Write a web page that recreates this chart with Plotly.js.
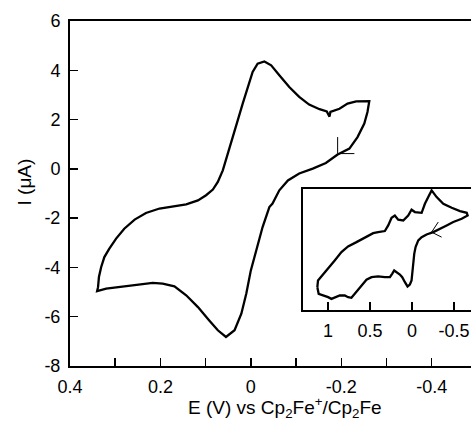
<!DOCTYPE html>
<html>
<head>
<meta charset="utf-8">
<script src="https://cdn.plot.ly/plotly-3.0.1.min.js"></script>
<style>html,body{margin:0;padding:0;background:#fff;}#chart{width:471px;height:422px;}</style>
</head>
<body>
<div id="chart"></div>
<script>
// Main cyclic voltammogram (E in V vs Cp2Fe+/Cp2Fe, I in µA)
const cvE = [-0.192,-0.218,-0.236,-0.251,-0.258,-0.262,-0.233,-0.214,-0.196,-0.176,-0.174,-0.168,-0.152,-0.129,-0.107,-0.085,-0.063,-0.045,-0.030,-0.015,-0.004,0.007,0.018,0.029,0.040,0.051,0.062,0.073,0.084,0.099,0.117,0.143,0.173,0.202,0.232,0.257,0.280,0.298,0.313,0.324,0.331,0.336,0.338,0.340,0.320,0.291,0.254,0.217,0.195,0.169,0.143,0.117,0.092,0.073,0.055,0.036,0.021,0.010,0.000,-0.012,-0.026,-0.041,-0.048,-0.063,-0.082,-0.107,-0.137,-0.166,-0.192];
const cvI = [0.58,0.82,1.29,1.84,2.31,2.75,2.74,2.65,2.44,2.31,2.12,2.33,2.42,2.61,2.92,3.32,3.80,4.20,4.36,4.27,3.93,3.32,2.65,1.97,1.29,0.62,-0.06,-0.53,-0.84,-1.07,-1.28,-1.44,-1.52,-1.61,-1.79,-2.06,-2.43,-2.83,-3.24,-3.58,-3.98,-4.39,-4.80,-4.96,-4.86,-4.80,-4.73,-4.63,-4.66,-4.77,-5.13,-5.61,-6.15,-6.55,-6.82,-6.55,-5.88,-5.06,-4.12,-3.31,-2.36,-1.55,-1.41,-0.87,-0.47,-0.19,0.01,0.24,0.58];
// Start-of-scan marker on main curve
const startMarkE = [-0.192,-0.192,-0.229];
const startMarkI = [1.29,0.62,0.62];

// Inset voltammogram (wide window), current in arbitrary units
const insetE = [1.127,1.119,1.087,1.039,0.979,0.920,0.840,0.761,0.661,0.562,0.462,0.403,0.323,0.283,0.243,0.204,0.164,0.104,0.045,0.005,-0.035,-0.115,-0.154,-0.194,-0.234,-0.294,-0.373,-0.473,-0.572,-0.652,-0.663,-0.592,-0.492,-0.413,-0.333,-0.254,-0.174,-0.115,-0.075,-0.043,-0.027,-0.015,-0.003,0.005,0.025,0.053,0.084,0.116,0.144,0.184,0.212,0.236,0.263,0.323,0.403,0.482,0.542,0.582,0.633,0.681,0.721,0.761,0.800,0.860,0.920,0.959,0.999,1.059,1.111,1.127];
const insetI = [1.91,2.46,2.73,3.15,3.61,4.11,4.79,5.26,5.61,5.97,6.35,6.43,6.52,6.98,7.61,7.80,7.45,7.39,7.80,8.27,8.08,8.02,8.76,9.31,9.86,9.31,8.76,8.43,8.16,8.02,7.80,7.53,7.26,6.98,6.71,6.43,6.24,6.02,5.75,5.20,4.65,3.83,3.01,2.46,2.13,1.97,2.32,2.73,2.95,3.15,3.28,3.01,2.73,2.73,2.79,2.73,2.52,2.19,1.78,1.37,1.04,1.09,1.23,1.23,1.04,0.95,1.09,1.23,1.37,1.91];
const insetMarkE = [-0.313,-0.234,-0.353];
const insetMarkI = [7.26,6.43,6.02];

// Tick labels
const xTickVals = [0.4,0.2,0,-0.2,-0.4];
const xTickText = ["0.4","0.2","0","-0.2","-0.4"];
const xMinorTickVals = [0.3,0.1,-0.1,-0.3];
const yTickVals = [6,4,2,0,-2,-4,-6,-8];
const yTickText = ["6","4","2","0","-2","-4","-6","-8"];
const insetTickVals = [1,0.5,0,-0.5];
const insetTickText = ["1","0.5","0","-0.5"];
const xTitle = 'E (V) vs Cp<sub>2</sub>Fe<sup>+</sup>/Cp<sub>2</sub>Fe';
const yTitle = 'I (μA)';

const font = {family: 'Liberation Sans, Arial, sans-serif', size: 18, color: '#000'};
const titleFont = {family: 'Liberation Sans, Arial, sans-serif', size: 19, color: '#000'};

const traces = [
  {x: cvE, y: cvI, mode: 'lines', line: {color: '#000', width: 2.3}, xaxis: 'x', yaxis: 'y', hoverinfo: 'skip'},
  {x: startMarkE, y: startMarkI, mode: 'lines', line: {color: '#000', width: 1}, xaxis: 'x', yaxis: 'y', hoverinfo: 'skip'},
  {x: insetE, y: insetI, mode: 'lines', line: {color: '#000', width: 2.3}, xaxis: 'x2', yaxis: 'y2', hoverinfo: 'skip'},
  {x: insetMarkE, y: insetMarkI, mode: 'lines', line: {color: '#000', width: 1}, xaxis: 'x2', yaxis: 'y2', hoverinfo: 'skip'}
];

const layout = {
  width: 471, height: 422,
  margin: {l: 70, r: 0, t: 21, b: 56},
  paper_bgcolor: '#fff', plot_bgcolor: 'rgba(0,0,0,0)',
  showlegend: false,
  font: font,
  xaxis: {
    range: [0.4, -0.487], domain: [0, 1], anchor: 'y',
    tickmode: 'array', tickvals: xTickVals, ticktext: xTickText,
    ticks: 'inside', ticklen: 8, tickwidth: 1.5, tickcolor: '#000',
    minor: {tickmode: 'array', tickvals: xMinorTickVals, ticks: 'inside', ticklen: 8, tickwidth: 1.5, tickcolor: '#000', showgrid: false},
    showline: true, linewidth: 2, linecolor: '#000', mirror: true,
    showgrid: false, zeroline: false, ticklabelstandoff: 3,
    tickfont: font
  },
  yaxis: {
    range: [-8, 6], domain: [0, 1], anchor: 'x',
    tickmode: 'array', tickvals: yTickVals, ticktext: yTickText,
    ticks: 'inside', ticklen: 8, tickwidth: 1.5, tickcolor: '#000',
    showline: true, linewidth: 2, linecolor: '#000', mirror: false,
    showgrid: false, zeroline: false, ticklabelstandoff: 4,
    tickfont: font
  },
  xaxis2: {
    range: [1.298, -0.703], domain: [0.581, 1], anchor: 'y2',
    tickmode: 'array', tickvals: insetTickVals, ticktext: insetTickText,
    ticks: 'inside', ticklen: 8, tickwidth: 1.5, tickcolor: '#000',
    showline: true, linewidth: 2, linecolor: '#000', mirror: true,
    showgrid: false, zeroline: false, ticklabelstandoff: 3,
    tickfont: font
  },
  yaxis2: {
    range: [0, 10], domain: [0.161, 0.514], anchor: 'x2',
    showticklabels: false, ticks: '',
    showline: true, linewidth: 2, linecolor: '#000', mirror: false,
    showgrid: false, zeroline: false
  },
  annotations: [
    {text: xTitle, xref: 'paper', yref: 'paper', x: 0.536, y: -0.121, xanchor: 'center', yanchor: 'middle', showarrow: false, font: titleFont},
    {text: yTitle, xref: 'paper', yref: 'paper', x: -0.1147, y: 0.532, xanchor: 'center', yanchor: 'middle', textangle: -90, showarrow: false, font: titleFont}
  ]
};

Plotly.newPlot('chart', traces, layout, {staticPlot: true, displayModeBar: false});
</script>
</body>
</html>
